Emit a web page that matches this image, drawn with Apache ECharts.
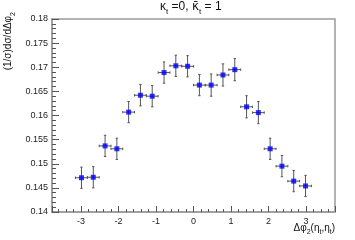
<!DOCTYPE html>
<html>
<head>
<meta charset="utf-8">
<script src="https://cdn.jsdelivr.net/npm/echarts@6/dist/echarts.min.js"></script>
<style>
html, body { margin: 0; padding: 0; background: #fff; }
#main { width: 355px; height: 240px; }
</style>
</head>
<body>
<div id="main"></div>
<script>
// bin centres of delta phi_2 (20 bins over [-pi, pi])
var xCenters = [-2.985, -2.670, -2.356, -2.042, -1.728, -1.414, -1.100, -0.785, -0.471, -0.157,
                0.157, 0.471, 0.785, 1.100, 1.414, 1.728, 2.042, 2.356, 2.670, 2.985];
var xHalfWidth = [0.157, 0.157, 0.157, 0.157, 0.157, 0.157, 0.157, 0.157, 0.157, 0.157,
                  0.157, 0.157, 0.157, 0.157, 0.157, 0.157, 0.157, 0.157, 0.157, 0.157];
var yValues = [0.1471, 0.1472, 0.1537, 0.1531, 0.1607, 0.1642, 0.1640, 0.1689, 0.1703, 0.1702,
               0.1663, 0.1663, 0.1684, 0.1695, 0.1618, 0.1606, 0.1531, 0.1495, 0.1464, 0.1454];
var yErrors = [0.0022, 0.0022, 0.0022, 0.0022, 0.0022, 0.0022, 0.0022, 0.0022, 0.0022, 0.0022,
               0.0022, 0.0023, 0.0023, 0.0023, 0.0023, 0.0023, 0.0022, 0.0022, 0.0022, 0.0022];

var points = xCenters.map(function (x, i) { return [x, yValues[i]]; });
var bars = xCenters.map(function (x, i) { return [x, yValues[i], xHalfWidth[i], yErrors[i]]; });

var chartDom = document.getElementById('main');
var myChart = echarts.init(chartDom, null, { renderer: 'canvas' });
var option;

var font = 'Liberation Sans, Arial, sans-serif';

option = {
    animation: false,
    textStyle: { fontFamily: font },
    grid: {
        left: 52, right: 20, top: 19, bottom: 28,
        show: true, borderColor: '#9a9a9a', borderWidth: 1.5, backgroundColor: '#fff'
    },
    xAxis: {
        type: 'value',
        min: -3.77, max: 3.77,
        splitNumber: 7,
        axisLine: { onZero: false, lineStyle: { color: '#9a9a9a', width: 1.5 } },
        axisTick: { inside: true, length: 6, lineStyle: { color: '#555' } },
        minorTick: { show: true, splitNumber: 5, length: 3, lineStyle: { color: '#555' } },
        splitLine: { show: false },
        axisLabel: {
            margin: 5, fontSize: 9, color: '#222', fontFamily: font,
            showMinLabel: false, showMaxLabel: false
        }
    },
    yAxis: {
        type: 'value',
        min: 0.14, max: 0.18,
        splitNumber: 8,
        axisLine: { show: true, onZero: false, lineStyle: { color: '#9a9a9a', width: 1.5 } },
        axisTick: { show: true, inside: true, length: 7, lineStyle: { color: '#555' } },
        minorTick: { show: true, splitNumber: 5, length: 4, lineStyle: { color: '#555' } },
        splitLine: { show: false },
        axisLabel: {
            margin: 4, fontSize: 9, color: '#222', fontFamily: font,
            formatter: function (v) { return String(+v.toFixed(3)); }
        }
    },
    graphic: [
        {
            type: 'text', left: 160, top: 1,
            style: {
                text: '{m|κ}{s|t}{m| =0, }{k|κ̄}{s|t}{m| = 1}',
                rich: {
                    m: { fontSize: 12, fontFamily: font, fill: '#111', lineHeight: 15, verticalAlign: 'bottom' },
                    k: { fontSize: 12, fontFamily: 'DejaVu Sans', fill: '#111', lineHeight: 15, verticalAlign: 'bottom' },
                    s: { fontSize: 8, fontFamily: font, fill: '#111', lineHeight: 15, verticalAlign: 'bottom', padding: [0, 0, -3, 0] }
                }
            }
        },
        {
            type: 'text', x: 7, y: 12, rotation: Math.PI / 2,
            style: {
                text: '{m|(1/σ)dσ/dΔφ}{s|2}',
                align: 'right', verticalAlign: 'middle',
                rich: {
                    m: { fontSize: 10, fontFamily: font, fill: '#111', lineHeight: 13, verticalAlign: 'bottom' },
                    s: { fontSize: 7, fontFamily: font, fill: '#111', lineHeight: 13, verticalAlign: 'bottom', padding: [0, 0, -3, 0] }
                }
            }
        },
        {
            type: 'text', right: 20, top: 223,
            style: {
                text: '{m|Δφ}{s|2}{m|(η}{s|t}{m|,η}{s|t}{m|)}',
                rich: {
                    m: { fontSize: 10, fontFamily: font, fill: '#111', lineHeight: 13, verticalAlign: 'bottom' },
                    s: { fontSize: 7, fontFamily: font, fill: '#111', lineHeight: 13, verticalAlign: 'bottom', padding: [0, 0, -3, 0] }
                }
            }
        }
    ],
    series: [
        {
            name: 'errors',
            type: 'custom',
            data: bars,
            z: 2,
            renderItem: function (params, api) {
                var x = api.value(0), y = api.value(1), dx = api.value(2), dy = api.value(3);
                var left = api.coord([x - dx, y]);
                var right = api.coord([x + dx, y]);
                var top = api.coord([x, y + dy]);
                var bottom = api.coord([x, y - dy]);
                var style = { stroke: '#555', lineWidth: 1 };
                var cap = 1.2;
                return {
                    type: 'group',
                    children: [
                        { type: 'line', shape: { x1: left[0], y1: left[1], x2: right[0], y2: right[1] }, style: style },
                        { type: 'line', shape: { x1: top[0], y1: top[1], x2: bottom[0], y2: bottom[1] }, style: style },
                        { type: 'line', shape: { x1: top[0] - cap, y1: top[1], x2: top[0] + cap, y2: top[1] }, style: style },
                        { type: 'line', shape: { x1: bottom[0] - cap, y1: bottom[1], x2: bottom[0] + cap, y2: bottom[1] }, style: style },
                        { type: 'line', shape: { x1: left[0], y1: left[1] - cap, x2: left[0], y2: left[1] + cap }, style: style },
                        { type: 'line', shape: { x1: right[0], y1: right[1] - cap, x2: right[0], y2: right[1] + cap }, style: style }
                    ]
                };
            }
        },
        {
            name: 'data',
            type: 'scatter',
            data: points,
            symbol: 'rect',
            symbolSize: 5,
            z: 3,
            itemStyle: { color: '#0000ff' }
        }
    ]
};

option && myChart.setOption(option);
</script>
</body>
</html>
